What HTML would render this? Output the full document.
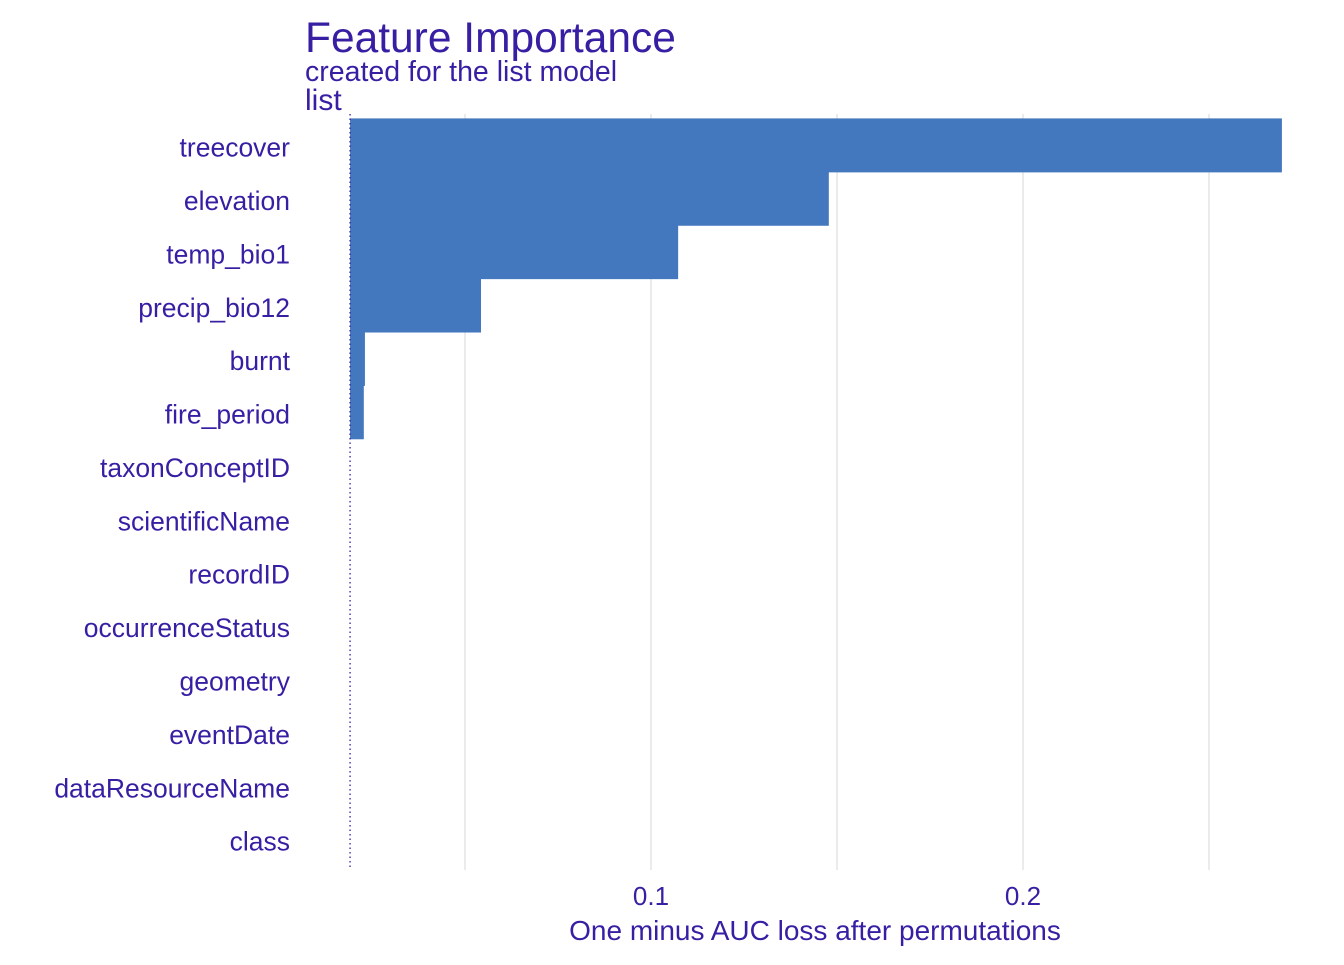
<!DOCTYPE html>
<html><head><meta charset="utf-8">
<style>
html,body{margin:0;padding:0;background:#fff;}
svg text{font-family:"Liberation Sans",sans-serif;}
</style></head>
<body>
<svg id="chart" width="1344" height="960" xmlns="http://www.w3.org/2000/svg">
<text x="305" y="52" font-size="42.5" fill="#371ea3">Feature Importance</text>
<text x="305" y="81" font-size="28.5" fill="#371ea3">created for the list model</text>
<text x="305" y="110" font-size="30" fill="#371ea3">list</text>
<g id="grid"></g>
<g id="bars"></g>
<g id="ylabels"></g>
<g id="xlabels"></g>
<text x="815" y="940" font-size="28" fill="#371ea3" text-anchor="middle">One minus AUC loss after permutations</text>
</svg>
<script>
const categories=["treecover","elevation","temp_bio1","precip_bio12","burnt","fire_period","taxonConceptID","scientificName","recordID","occurrenceStatus","geometry","eventDate","dataResourceName","class"];
const values=[0.2696,0.1478,0.1073,0.0543,0.0231,0.0228,0.0191,0.0191,0.0191,0.0191,0.0191,0.0191,0.0191,0.0191];
const baseline=0.0191;
const gridTicks=[0.05,0.1,0.15,0.2,0.25];
const tickLabels=["0.1","0.2"];
const tickValues=[0.1,0.2];
const NS="http://www.w3.org/2000/svg";
const x=v=>279+v*3720;
const band=53.38, y0=121.0;
const y=i=>y0+i*band;
function mk(t,a,p){const e=document.createElementNS(NS,t);for(const k in a)e.setAttribute(k,a[k]);p.appendChild(e);return e;}
const grid=document.getElementById('grid');
gridTicks.forEach(g=>{
  const l=mk('line',{x1:x(g),x2:x(g),y1:114,y2:870,stroke:'#e0e0e0','stroke-width':1.3},grid);
  
  
});
const bars=document.getElementById('bars');
values.forEach((v,i)=>{
  if(v>baseline){
    const r=mk('rect',{x:x(baseline),y:y(i)-2.6,width:x(v)-x(baseline),height:band+0.6,fill:'#4378bf'},bars);
    
    
  }
});
const bl=mk('line',{x1:x(baseline),x2:x(baseline),y1:114,y2:870,stroke:'#371ea3','stroke-width':1.3,'stroke-dasharray':'1.5,3'},bars);


const yl=document.getElementById('ylabels');
categories.forEach((c,i)=>{
  const t=mk('text',{x:290,y:y(i)+band/2+9,'font-size':26.5,fill:'#371ea3','text-anchor':'end'},yl);
  t.textContent=c;
  
  
});
const xl=document.getElementById('xlabels');
tickValues.forEach((v,i)=>{
  const t=mk('text',{x:x(v),y:905,'font-size':26,fill:'#371ea3','text-anchor':'middle'},xl);
  t.textContent=tickLabels[i];
  
  
});
</script>
</body></html>
